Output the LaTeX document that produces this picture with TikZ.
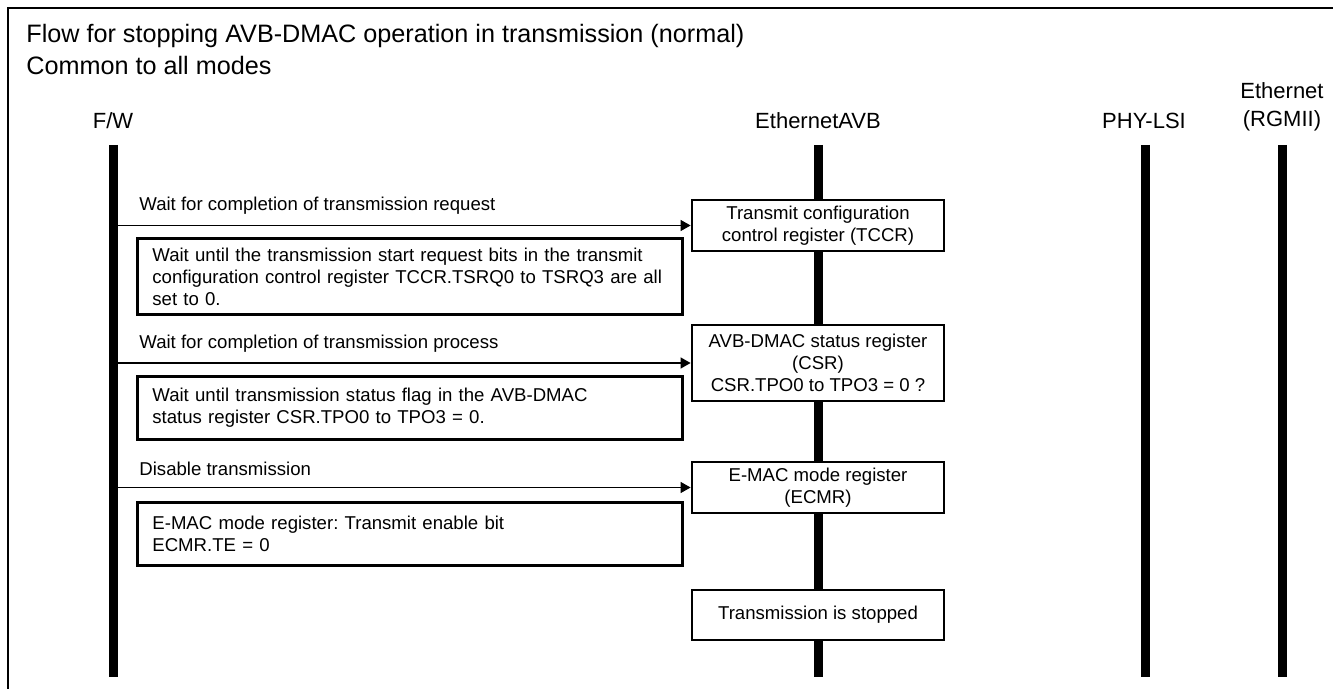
\documentclass[tikz,border=0pt]{standalone}
\usepackage{fontspec}
\setmainfont{Liberation Sans}
\usetikzlibrary{arrows.meta}
\frenchspacing

\begin{document}
\begin{tikzpicture}[x=0.5pt, y=-0.5pt,
    regbox/.style={draw, line width=1.4pt, fill=white, minimum width=126pt, inner sep=2pt, align=center, font=\fontsize{9.3}{11}\selectfont},
    notebox/.style={draw, line width=1.4pt, fill=white, anchor=north west, minimum width=272.5pt, text width=257.5pt, inner xsep=7.5pt, align=left, font=\fontsize{9.3}{11}\selectfont},
    msg/.style={-{Triangle[length=5pt, width=5.5pt]}, line width=0.6pt},
    msglabel/.style={anchor=west, inner sep=0pt, font=\fontsize{9.3}{11}\selectfont},
    lifeline/.style={line width=4.5pt},
    header/.style={align=center, inner sep=0pt, font=\fontsize{11}{14}\selectfont}]
    \useasboundingbox (0,0) rectangle (1333,689);

    % Frame and title
    \draw[line width=1.3pt] (1333,8) -- (8,8) -- (8,689);
    \node[anchor=west, inner sep=0pt, font=\fontsize{12.6}{15}\selectfont] (title) at (26,36) {Flow for stopping AVB-DMAC operation in transmission (normal)};
    \node[anchor=west, inner sep=0pt, font=\fontsize{12.6}{15}\selectfont] (subtitle) at (26,65) {Common to all modes};

    % Lifelines
    \node[header] (fwhead) at (113,121) {F/W};
    \node[header] (avbhead) at (818,121) {EthernetAVB};
    \node[header] (phyhead) at (1144,121) {PHY-LSI};
    \node[header] (ethhead) at (1282,107) {Ethernet\\(RGMII)};
    \coordinate (fwtop) at (113,145);  \coordinate (fwbot) at (113,677);
    \coordinate (avbtop) at (818,145); \coordinate (avbbot) at (818,677);
    \coordinate (phytop) at (1145,145); \coordinate (phybot) at (1145,677);
    \coordinate (ethtop) at (1282,145); \coordinate (ethbot) at (1282,677);
    \draw[lifeline] (fwtop) -- (fwbot);
    \draw[lifeline] (avbtop) -- (avbbot);
    \draw[lifeline] (phytop) -- (phybot);
    \draw[lifeline] (ethtop) -- (ethbot);
    \coordinate (fw) at (117.5,0);

    % Draw nodes
    \node[regbox, minimum height=25.5pt] (tccr) at (818,225.5) {Transmit configuration\\control register (TCCR)};
    \node[regbox, minimum height=38pt] (csr) at (818,363) {AVB-DMAC status register\\(CSR)\\CSR.TPO0 to TPO3 = 0 ?};
    \node[regbox, minimum height=25.5pt] (ecmr) at (818,487.5) {E-MAC mode register\\(ECMR)};
    \node[regbox, minimum height=25pt] (stopped) at (818,615) {Transmission is stopped};

    \node[notebox, minimum height=38pt] (note1) at (136,237) {Wait until the transmission start request bits in the transmit\\configuration control register TCCR.TSRQ0 to TSRQ3 are all\\set to 0.};
    \node[notebox, minimum height=31.5pt] (note2) at (136,375) {Wait until transmission status flag in the AVB-DMAC\\status register CSR.TPO0 to TPO3 = 0.};
    \node[notebox, minimum height=31.5pt] (note3) at (136,501) {E-MAC mode register: Transmit enable bit\\ECMR.TE = 0};

    % Draw connections
    \draw[msg] (tccr.west -| fw) -- (tccr.west);
    \draw[msg] (csr.west -| fw) -- (csr.west);
    \draw[msg] (ecmr.west -| fw) -- (ecmr.west);

    % Labels
    \node[msglabel] (req) at (139,206) {Wait for completion of transmission request};
    \node[msglabel] (proc) at (139,344) {Wait for completion of transmission process};
    \node[msglabel] (dis) at (139,469) {Disable transmission};
\end{tikzpicture}
\end{document}
